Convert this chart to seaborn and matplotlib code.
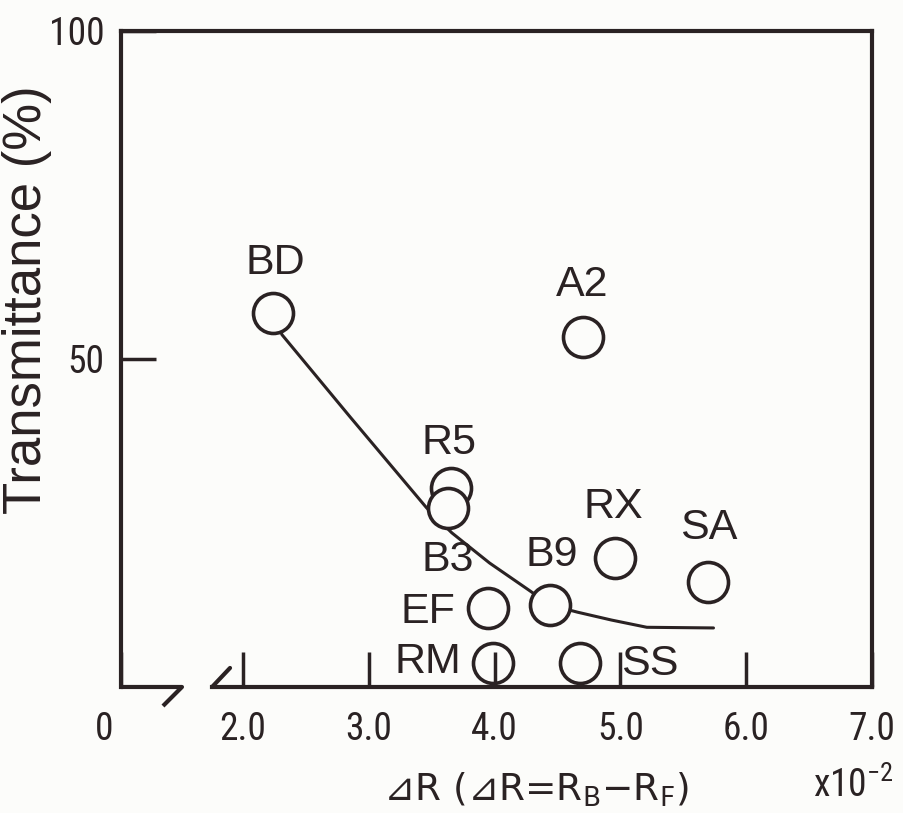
import matplotlib
matplotlib.use("Agg")
import matplotlib.pyplot as plt
import matplotlib.transforms as mtransforms
from matplotlib import font_manager
import pandas as pd
import seaborn as sns

sns.set_theme(style="white")
plt.rcParams['font.family'] = ['Liberation Sans', 'DejaVu Sans']
plt.rcParams['mathtext.fontset'] = 'dejavusans'

INK = '#2a2223'
PAPER = '#fcfcfa'

# --- data ---
samples = ['BD', 'A2', 'R5', 'B3', 'RX', 'SA', 'B9', 'EF', 'RM', 'SS']
delta_r = [2.24, 4.70, 3.65, 3.63, 4.96, 5.70, 4.44, 3.95, 3.99, 4.68]
transmittance = [57.0, 53.4, 30.3, 27.3, 19.7, 16.0, 12.5, 12.0, 3.7, 3.7]

# hand drawn trend curve
curve_x = [2.24, 2.31, 2.85, 3.46, 3.66, 3.96, 4.27, 4.44, 4.66, 4.93, 5.21, 5.74]
curve_y = [57.0, 53.7, 41.2, 27.3, 23.5, 18.9, 14.8, 12.5, 11.4, 10.2, 9.1, 9.0]

xticks = [1.03, 2.0, 3.0, 4.0, 5.0, 6.0, 7.0]
xticklabels = ['0', '2.0', '3.0', '4.0', '5.0', '6.0', '7.0']
yticks = [50, 100]
yticklabels = ['50', '100']

df = pd.DataFrame({'sample': samples, 'dR': delta_r, 'T': transmittance})
curve = pd.DataFrame({'dR': curve_x, 'T': curve_y})

# where each label sits relative to its circle (pixels)
label_offsets = {
    'BD': (2, 50), 'A2': (0, 52), 'R5': (-2, 45), 'B3': (0, -52),
    'RX': (-2, 51), 'SA': (0, 54), 'B9': (2, 50), 'EF': (-60, -4),
    'RM': (-65, 1), 'SS': (70, -1),
}

# the tick numbers are set in a narrow face, use one if there is one
installed = {f.name for f in font_manager.fontManager.ttflist}
narrow = next((n for n in ['Liberation Sans Narrow', 'DejaVu Sans Condensed',
                           'Roboto Condensed'] if n in installed), None)
num_family = [narrow, 'DejaVu Sans'] if narrow else ['DejaVu Sans']
num_size = 27 if narrow else 23
num_kw = dict(fontstretch='condensed') if narrow is None else {}

fig = plt.figure(figsize=(9.04, 8.13), dpi=100, facecolor=PAPER)
ax = fig.add_axes([0.1338, 0.1550, 0.8308, 0.8069])
ax.set_facecolor(PAPER)
ax.set_axisbelow(False)

sns.lineplot(data=curve, x='dR', y='T', ax=ax, color=INK, lw=2.2,
             estimator=None, sort=False, zorder=1.5)
sns.scatterplot(data=df, x='dR', y='T', ax=ax, s=830, marker='o',
                facecolor=PAPER, edgecolor=INK, linewidth=2.6, zorder=2)

for _, row in df.iterrows():
    dx, dy = label_offsets[row['sample']]
    ax.annotate(row['sample'], (row['dR'], row['T']), xytext=(dx, dy),
                textcoords='offset pixels', ha='center', va='center',
                fontsize=31, color=INK)

ax.set_xlim(xticks[0], 7.0)
ax.set_ylim(0, 100)

# frame
for side in ['left', 'right', 'top', 'bottom']:
    ax.spines[side].set_color(INK)
    ax.spines[side].set_linewidth(3)
ax.spines['bottom'].set_bounds(1.754, 7.0)

# axis break on the bottom line
ax.plot([1.03, 1.515, 1.364], [0, 0, -2.9], color=INK, lw=3,
        clip_on=False, solid_capstyle='butt')
ax.plot([1.897, 1.754], [2.9, 0], color=INK, lw=3, clip_on=False)

ax.set_xticks(xticks)
ax.set_xticklabels(xticklabels)
ax.set_yticks(yticks)
ax.set_yticklabels(yticklabels)
ax.tick_params(axis='both', direction='in', length=25, width=2.5,
               color=INK, labelcolor=INK, labelsize=num_size)
ax.tick_params(axis='x', pad=17, bottom=True)
ax.tick_params(axis='y', pad=12, left=True)
for lab in ax.get_xticklabels() + ax.get_yticklabels():
    lab.set_family(num_family)
    if num_kw:
        lab.set_fontstretch('condensed')

# the origin "0" sits a bit left of the corner
zero = ax.get_xticklabels()[0]
zero.set_transform(zero.get_transform() +
                   mtransforms.ScaledTranslation(-0.17, 0, fig.dpi_scale_trans))

ax.set_ylabel('Transmittance (%)', fontsize=38, color=INK)
ax.yaxis.set_label_coords(-0.092, 0.59)

ax.set_xlabel('⊿R (⊿R=R$_\\mathsf{B}$−R$_\\mathsf{F}$)', fontsize=27,
              color=INK, family='DejaVu Sans')
ax.xaxis.set_label_coords(0.553, -0.128)

ax.text(0.975, -0.150, 'x10$^{\\mathregular{-2}}$', transform=ax.transAxes,
        ha='center', va='center', fontsize=num_size, color=INK,
        family=num_family, **num_kw)

fig.savefig('out.png', dpi=100, facecolor=PAPER)
